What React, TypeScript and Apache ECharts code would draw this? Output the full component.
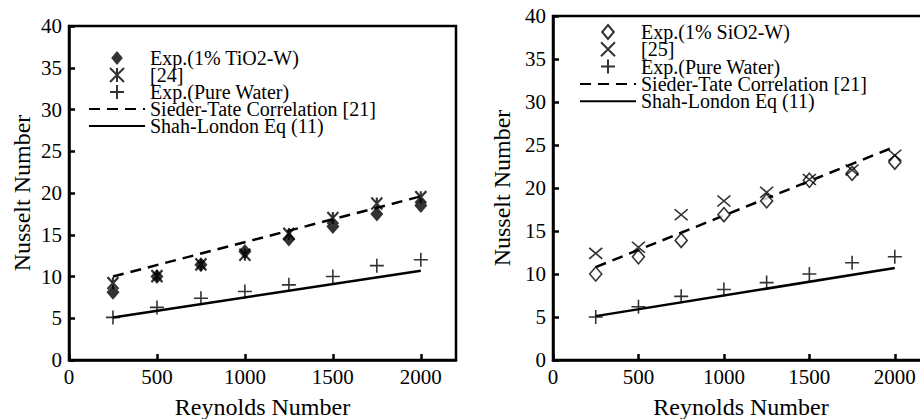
import React, { useEffect, useRef } from "react";
import * as echarts from "echarts";

const RE = [250, 500, 750, 1000, 1250, 1500, 1750, 2000];
const RE_ENDS = [250, 2000];

// Left panel (TiO2)
const LEFT_TIO2 = [8.1, 10.0, 11.4, 13.0, 14.5, 16.0, 17.5, 18.5];
const LEFT_REF24 = [9.2, 10.05, 11.45, 12.6, 15.1, 17.0, 18.75, 19.5];
const LEFT_WATER = [5.1, 6.3, 7.4, 8.2, 9.0, 10.0, 11.3, 12.0];
const LEFT_SIEDER = [10.0, 19.6];
const LEFT_SHAH = [5.1, 10.7];

// Right panel (SiO2)
const RIGHT_SIO2 = [10.0, 12.0, 13.9, 16.9, 18.5, 20.9, 21.7, 23.0];
const RIGHT_REF25 = [12.4, 13.1, 16.9, 18.5, 19.5, 21.0, 22.1, 23.8];
const RIGHT_WATER = [5.0, 6.2, 7.4, 8.2, 9.0, 10.0, 11.3, 12.0];
const RIGHT_SIEDER = [10.8, 24.8];
const RIGHT_SHAH = [5.1, 10.7];

const X_TICKS = [0, 500, 1000, 1500, 2000];
const Y_TICKS = [0, 5, 10, 15, 20, 25, 30, 35, 40];

const FONT = "'Liberation Serif', 'Times New Roman', 'DejaVu Serif', serif";
const pts = (xs: number[], ys: number[]) => xs.map((x, i) => [x, ys[i]]);

const PLUS = "path://M5 0 L5 10 M0 5 L10 5";
const CROSS = "path://M0 0 L10 10 M10 0 L0 10";
const STAR = "path://M0 0 L10 10 M10 0 L0 10 M5 0 L5 10";
const DIAMOND = "path://M5 0 L10 6 L5 12 L0 6 Z";

function strokeStyle(w = 1.6) {
  return { color: "transparent", borderColor: "#000", borderWidth: w };
}

function makeAxes(gi: number) {
  const x = {
    type: "value",
    gridIndex: gi,
    min: 0,
    max: 2200,
    interval: 500,
    name: "Reynolds Number",
    nameLocation: "middle",
    nameGap: 35,
    nameMoveOverlap: false,
    nameTextStyle: { fontFamily: FONT, fontSize: 24, color: "#000", verticalAlign: "top" },
    axisLine: { show: true, lineStyle: { color: "#000", width: 2.5 } },
    axisTick: { show: true, inside: true, length: 6, lineStyle: { color: "#000", width: 2.5 } },
    axisLabel: {
      fontFamily: FONT,
      fontSize: 21,
      color: "#000",
      margin: 6,
      showMaxLabel: false,
      formatter: (v: number) => (X_TICKS.includes(v) ? String(v) : ""),
    },
    splitLine: { show: false },
  };
  const y = {
    type: "value",
    gridIndex: gi,
    min: 0,
    max: 40,
    interval: 5,
    name: "Nusselt Number",
    nameLocation: "middle",
    nameGap: gi === 0 ? 35 : 39,
    nameMoveOverlap: false,
    nameRotate: 90,
    nameTextStyle: { fontFamily: FONT, fontSize: 24, color: "#000" },
    axisLine: { show: true, lineStyle: { color: "#000", width: 2.5 } },
    axisTick: { show: true, inside: true, length: 6, lineStyle: { color: "#000", width: 2.5 } },
    axisLabel: {
      fontFamily: FONT,
      fontSize: 21,
      color: "#000",
      margin: 7,
      formatter: (v: number) => (Y_TICKS.includes(v) ? String(v) : ""),
    },
    splitLine: { show: false },
  };
  return { x, y };
}

export default function App() {
  const ref = useRef<HTMLDivElement>(null);
  useEffect(() => {
    if (!ref.current) return;
    const chart = echarts.init(ref.current, null, { renderer: "svg" });
    const a0 = makeAxes(0);
    const a1 = makeAxes(1);
    const lineSeries = (name: string, gi: number, data: number[], dashed: boolean) => ({
      name,
      type: "line",
      xAxisIndex: gi,
      yAxisIndex: gi,
      data: pts(RE_ENDS, data),
      symbol: "none",
      lineStyle: { color: "#000", width: 2.5, type: dashed ? [11, 7] : "solid" },
      itemStyle: { color: "transparent", borderWidth: 0, opacity: 0 },
      z: 2,
    });
    const legendCommon = {
      orient: "vertical",
      itemWidth: 56,
      itemHeight: 14,
      itemGap: -3,
      padding: 0,
      selectedMode: false,
      symbolKeepAspect: true,
      textStyle: { fontFamily: FONT, fontSize: 20, color: "#000" },
    };
    chart.setOption({
      animation: false,
      backgroundColor: "#fff",
      textStyle: { fontFamily: FONT },
      grid: [
        { left: 69, top: 26, width: 387, height: 334, show: true, borderColor: "#000", borderWidth: 2.5, backgroundColor: "transparent", outerBoundsMode: "none", containLabel: false },
        { left: 553, top: 16, width: 376, height: 344, show: true, borderColor: "#000", borderWidth: 2.5, backgroundColor: "transparent", outerBoundsMode: "none", containLabel: false },
      ],
      xAxis: [a0.x, a1.x],
      yAxis: [a0.y, a1.y],
      legend: [
        {
          ...legendCommon,
          left: 88,
          top: 48,
          data: ["Exp.(1% TiO2-W)", "[24]", "Exp.(Pure Water)", "Sieder-Tate Correlation [21]", "Shah-London Eq (11)"],
        },
        {
          ...legendCommon,
          left: 579,
          top: 22,
          itemGap: -2.7,
          data: ["Exp.(1% SiO2-W)", "[25]", "Exp.(Pure Water)", "Sieder-Tate Correlation [21]", "Shah-London Eq (11)"],
        },
      ],
      series: [
        lineSeries("Sieder-Tate Correlation [21]", 0, LEFT_SIEDER, true),
        lineSeries("Shah-London Eq (11)", 0, LEFT_SHAH, false),
        {
          name: "Exp.(1% TiO2-W)",
          type: "scatter",
          xAxisIndex: 0,
          yAxisIndex: 0,
          data: pts(RE, LEFT_TIO2),
          symbol: DIAMOND,
          symbolSize: [13, 15],
          itemStyle: { color: "#000" },
          z: 3,
        },
        {
          name: "[24]",
          type: "scatter",
          xAxisIndex: 0,
          yAxisIndex: 0,
          data: pts(RE, LEFT_REF24),
          symbol: STAR,
          symbolSize: [11, 12],
          itemStyle: strokeStyle(2.2),
          z: 4,
        },
        {
          name: "Exp.(Pure Water)",
          type: "scatter",
          xAxisIndex: 0,
          yAxisIndex: 0,
          data: pts(RE, LEFT_WATER),
          symbol: PLUS,
          symbolSize: 14,
          itemStyle: strokeStyle(1.6),
          z: 4,
        },
        lineSeries("Sieder-Tate Correlation [21]", 1, RIGHT_SIEDER, true),
        lineSeries("Shah-London Eq (11)", 1, RIGHT_SHAH, false),
        {
          name: "Exp.(1% SiO2-W)",
          type: "scatter",
          xAxisIndex: 1,
          yAxisIndex: 1,
          data: pts(RE, RIGHT_SIO2),
          symbol: DIAMOND,
          symbolSize: [12, 14],
          itemStyle: { color: "#fff", borderColor: "#000", borderWidth: 1.6 },
          z: 3,
        },
        {
          name: "[25]",
          type: "scatter",
          xAxisIndex: 1,
          yAxisIndex: 1,
          data: pts(RE, RIGHT_REF25),
          symbol: CROSS,
          symbolSize: [13, 11],
          itemStyle: strokeStyle(1.6),
          z: 4,
        },
        {
          name: "Exp.(Pure Water)",
          type: "scatter",
          xAxisIndex: 1,
          yAxisIndex: 1,
          data: pts(RE, RIGHT_WATER),
          symbol: PLUS,
          symbolSize: 14,
          itemStyle: strokeStyle(1.6),
          z: 4,
        },
      ],
    });
    return () => chart.dispose();
  }, []);
  return <div ref={ref} style={{ width: 920, height: 419, position: "absolute", left: 0, top: 0 }} />;
}
